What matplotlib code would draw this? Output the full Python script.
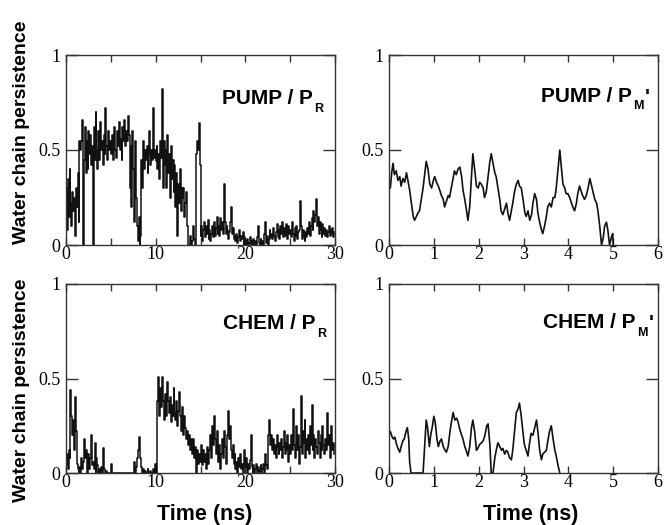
import numpy as np
import matplotlib
matplotlib.use("Agg")
import matplotlib.pyplot as plt

# ---------------- data ----------------
# PUMP / P_R : persistence sampled every 0.1 ns, 0 .. 29.9 ns
pump_pr = [
    0.30,0.08,0.35,0.15,0.40,0.22,0.10,0.28,0.18,0.25,
    0.05,0.30,0.20,0.38,0.12,0.55,0.50,0.55,0.66,0.00,
    0.45,0.62,0.38,0.55,0.40,0.60,0.48,0.58,0.42,0.52,
    0.00,0.62,0.45,0.70,0.50,0.40,0.60,0.45,0.65,0.50,
    0.55,0.42,0.58,0.48,0.72,0.52,0.45,0.60,0.50,0.55,
    0.48,0.58,0.45,0.55,0.62,0.50,0.46,0.60,0.52,0.65,
    0.50,0.56,0.45,0.62,0.55,0.66,0.52,0.60,0.55,0.68,
    0.58,0.30,0.52,0.20,0.60,0.40,0.12,0.55,0.25,0.10,
    0.02,0.15,0.00,0.05,0.45,0.30,0.55,0.40,0.50,0.45,
    0.52,0.38,0.48,0.60,0.42,0.50,0.45,0.72,0.46,0.50,
    0.44,0.52,0.40,0.48,0.35,0.55,0.46,0.82,0.30,0.55,
    0.42,0.50,0.30,0.58,0.38,0.48,0.25,0.52,0.35,0.45,
    0.28,0.42,0.20,0.38,0.05,0.32,0.22,0.40,0.18,0.30,
    0.25,0.30,0.15,0.22,0.28,0.10,0.00,0.00,0.05,0.00,
    0.00,0.02,0.10,0.03,0.00,0.48,0.55,0.50,0.64,0.42,
    0.05,0.10,0.02,0.08,0.12,0.04,0.10,0.06,0.13,0.03,
    0.08,0.02,0.06,0.10,0.04,0.12,0.05,0.09,0.15,0.06,
    0.10,0.05,0.14,0.08,0.12,0.06,0.32,0.12,0.06,0.10,
    0.08,0.03,0.07,0.12,0.20,0.06,0.09,0.03,0.05,0.02,
    0.06,0.01,0.04,0.08,0.02,0.05,0.03,0.07,0.00,0.04,
    0.02,0.00,0.03,0.00,0.01,0.04,0.00,0.02,0.00,0.03,
    0.00,0.02,0.00,0.04,0.10,0.01,0.00,0.03,0.00,0.02,
    0.00,0.06,0.12,0.01,0.05,0.00,0.03,0.08,0.04,0.06,
    0.03,0.09,0.05,0.02,0.07,0.11,0.04,0.08,0.03,0.10,
    0.06,0.12,0.04,0.09,0.05,0.11,0.07,0.03,0.10,0.06,
    0.08,0.04,0.12,0.06,0.02,0.09,0.05,0.10,0.03,0.07,
    0.08,0.23,0.10,0.03,0.08,0.05,0.02,0.07,0.04,0.09,
    0.06,0.12,0.05,0.10,0.14,0.08,0.18,0.12,0.16,0.24,
    0.10,0.15,0.06,0.12,0.08,0.04,0.11,0.06,0.09,0.05,
    0.08,0.04,0.07,0.10,0.05,0.08,0.06,0.09,0.04,0.07,
]

# CHEM / P_R : persistence sampled every 0.1 ns, 0 .. 29.9 ns
chem_pr = [
    0.05,0.10,0.02,0.12,0.08,0.44,0.30,0.20,0.28,0.12,
    0.40,0.22,0.05,0.02,0.00,0.03,0.00,0.08,0.02,0.06,
    0.18,0.08,0.12,0.00,0.05,0.10,0.02,0.08,0.20,0.04,
    0.06,0.02,0.16,0.00,0.08,0.04,0.00,0.02,0.00,0.03,
    0.00,0.13,0.02,0.00,0.00,0.01,0.00,0.00,0.00,0.00,
    0.05,0.00,0.00,0.00,0.00,0.00,0.00,0.00,0.00,0.00,
    0.00,0.00,0.00,0.00,0.00,0.00,0.00,0.00,0.00,0.00,
    0.00,0.00,0.00,0.00,0.00,0.00,0.06,0.00,0.03,0.08,
    0.12,0.19,0.15,0.08,0.03,0.00,0.02,0.00,0.01,0.00,
    0.00,0.02,0.00,0.00,0.01,0.00,0.00,0.02,0.00,0.05,
    0.00,0.20,0.38,0.51,0.30,0.45,0.35,0.51,0.38,0.28,
    0.42,0.35,0.30,0.48,0.38,0.32,0.40,0.27,0.36,0.30,
    0.45,0.32,0.28,0.38,0.25,0.33,0.43,0.30,0.22,0.35,
    0.28,0.20,0.30,0.24,0.18,0.22,0.15,0.20,0.12,0.18,
    0.16,0.10,0.18,0.08,0.14,0.00,0.12,0.05,0.10,0.06,
    0.08,0.15,0.04,0.12,0.06,0.10,0.02,0.14,0.05,0.09,
    0.12,0.20,0.08,0.25,0.15,0.30,0.18,0.10,0.22,0.12,
    0.06,0.15,0.02,0.10,0.18,0.08,0.22,0.14,0.05,0.12,
    0.20,0.33,0.18,0.25,0.12,0.08,0.15,0.05,0.10,0.02,
    0.06,0.00,0.08,0.03,0.10,0.02,0.05,0.00,0.04,0.12,
    0.03,0.08,0.00,0.05,0.02,0.07,0.20,0.03,0.00,0.04,
    0.00,0.02,0.05,0.00,0.03,0.01,0.00,0.04,0.00,0.02,
    0.05,0.00,0.10,0.04,0.02,0.20,0.28,0.26,0.15,0.20,
    0.12,0.18,0.10,0.15,0.08,0.20,0.14,0.10,0.16,0.12,
    0.18,0.08,0.14,0.22,0.10,0.16,0.12,0.20,0.06,0.15,
    0.10,0.20,0.12,0.34,0.15,0.08,0.18,0.25,0.12,0.20,
    0.05,0.14,0.41,0.10,0.22,0.16,0.28,0.08,0.18,0.12,
    0.20,0.10,0.25,0.15,0.36,0.12,0.20,0.08,0.18,0.14,
    0.10,0.22,0.16,0.08,0.20,0.12,0.25,0.15,0.10,0.18,
    0.12,0.32,0.15,0.20,0.08,0.18,0.25,0.12,0.16,0.10,
]
pr_time_step = 0.1

# PUMP / P_M'
pump_pm_t = [0.00,0.03,0.06,0.09,0.12,0.16,0.20,0.24,0.27,0.31,0.35,0.39,0.42,0.46,
             0.50,0.54,0.57,0.61,0.65,0.68,0.72,0.76,0.80,0.83,0.87,0.91,0.95,0.99,
             1.02,1.06,1.10,1.13,1.17,1.21,1.24,1.28,1.32,1.35,1.39,1.43,1.46,1.50,
             1.54,1.58,1.62,1.65,1.69,1.73,1.76,1.80,1.84,1.87,1.91,1.95,1.99,2.02,
             2.06,2.10,2.13,2.17,2.21,2.25,2.28,2.32,2.36,2.39,2.43,2.47,2.50,2.54,
             2.58,2.62,2.65,2.69,2.73,2.76,2.80,2.84,2.88,2.91,2.95,2.99,3.03,3.06,
             3.10,3.14,3.18,3.21,3.25,3.29,3.32,3.36,3.40,3.43,3.47,3.51,3.54,3.58,
             3.62,3.66,3.70,3.73,3.77,3.81,3.84,3.88,3.92,3.95,3.99,4.03,4.07,4.10,
             4.14,4.18,4.21,4.25,4.29,4.32,4.36,4.40,4.44,4.48,4.51,4.55,4.59,4.63,
             4.66,4.70,4.74,4.78,4.81,4.85,4.88,4.92,4.96,4.99,5.00]
pump_pm_v = [0.33,0.30,0.38,0.43,0.37,0.39,0.34,0.36,0.31,0.35,0.33,0.38,0.34,0.29,
             0.22,0.15,0.13,0.15,0.17,0.18,0.24,0.30,0.38,0.44,0.40,0.32,0.30,0.34,
             0.36,0.33,0.31,0.29,0.26,0.24,0.20,0.23,0.26,0.25,0.30,0.35,0.39,0.37,
             0.40,0.41,0.36,0.29,0.24,0.18,0.13,0.20,0.36,0.48,0.40,0.31,0.30,0.33,
             0.32,0.30,0.25,0.28,0.36,0.44,0.48,0.43,0.38,0.36,0.30,0.24,0.18,0.16,
             0.19,0.22,0.17,0.13,0.18,0.22,0.28,0.32,0.34,0.31,0.30,0.24,0.17,0.15,
             0.18,0.13,0.16,0.22,0.27,0.24,0.17,0.12,0.08,0.06,0.10,0.15,0.20,0.22,
             0.20,0.25,0.25,0.30,0.40,0.50,0.42,0.32,0.30,0.27,0.27,0.25,0.22,0.20,
             0.18,0.22,0.27,0.31,0.28,0.26,0.24,0.26,0.30,0.35,0.32,0.28,0.24,0.22,
             0.18,0.10,0.00,0.04,0.10,0.12,0.08,0.00,0.04,0.06,0.00]

# CHEM / P_M'
chem_pm_t = [0.00,0.03,0.07,0.10,0.13,0.17,0.20,0.24,0.27,0.31,0.34,0.38,0.41,0.44,
             0.46,0.49,0.76,0.79,0.83,0.86,0.90,0.93,0.97,1.00,1.03,1.07,1.10,1.14,
             1.17,1.21,1.25,1.28,1.32,1.36,1.40,1.43,1.47,1.51,1.54,1.58,1.62,1.65,
             1.69,1.72,1.76,1.80,1.84,1.87,1.91,1.95,1.98,2.02,2.06,2.10,2.14,2.18,
             2.21,2.25,2.28,2.32,2.36,2.40,2.43,2.47,2.51,2.54,2.58,2.62,2.65,2.69,
             2.73,2.76,2.80,2.84,2.88,2.91,2.95,2.99,3.02,3.06,3.10,3.13,3.17,3.21,
             3.25,3.29,3.32,3.36,3.40,3.43,3.47,3.51,3.55,3.58,3.62,3.66,3.70,3.73,
             3.77,3.81]
chem_pm_v = [0.20,0.22,0.19,0.18,0.19,0.15,0.13,0.11,0.14,0.17,0.18,0.22,0.24,0.18,
             0.06,0.00,0.00,0.12,0.28,0.24,0.14,0.20,0.25,0.30,0.27,0.18,0.14,0.17,
             0.18,0.14,0.12,0.11,0.14,0.22,0.28,0.32,0.28,0.29,0.27,0.23,0.20,0.18,
             0.14,0.12,0.09,0.14,0.24,0.28,0.22,0.12,0.13,0.15,0.16,0.17,0.20,0.25,
             0.26,0.15,0.00,0.00,0.08,0.13,0.16,0.14,0.12,0.13,0.10,0.12,0.11,0.08,
             0.07,0.12,0.22,0.32,0.34,0.37,0.30,0.21,0.15,0.12,0.09,0.15,0.21,0.20,
             0.24,0.28,0.22,0.12,0.07,0.10,0.11,0.12,0.18,0.22,0.25,0.18,0.12,0.09,
             0.04,0.00]

panel_titles = [("PUMP / P", "R", False), ("PUMP / P", "M", True),
                ("CHEM / P", "R", False), ("CHEM / P", "M", True)]
y_ticks = [0, 0.5, 1]
y_ticklabels = ["0", "0.5", "1"]
ylabel_text = "Water chain persistence"
xlabel_text = "Time (ns)"

# ---------------- figure ----------------
W, H = 666, 525
fig = plt.figure(figsize=(W / 100, H / 100), dpi=100)
SANS = "Liberation Sans"
SERIF = "Liberation Serif"
LINE = "#111111"
AX = "#333333"

def fx(px):
    return px / W

def fy(py):
    return 1 - py / H

boxes = [(66, 55, 335, 245), (389, 55, 658, 245),
         (66, 284, 335, 473), (389, 284, 658, 473)]
axes = []
for (l, t, r, b) in boxes:
    ax = fig.add_axes([fx(l), fy(b), (r - l) / W, (b - t) / H])
    axes.append(ax)

def style(ax, xmax, major, labeled):
    ax.set_xlim(0, xmax)
    ax.set_ylim(0, 1)
    ticks = np.arange(0, xmax + 0.001, major)
    ax.set_xticks(ticks)
    ax.set_xticklabels([(f"{v:g}" if (round(v / major) % labeled == 0) else "")
                        for v in ticks])
    ax.set_yticks(y_ticks)
    ax.set_yticklabels(y_ticklabels)
    ax.tick_params(axis="x", direction="in", length=5, width=1.0, color=AX,
                   top=True, pad=1.0, labelsize=13)
    ax.tick_params(axis="y", direction="in", length=8.5, width=1.0, color=AX,
                   right=True, pad=4, labelsize=13)
    for lab in ax.get_xticklabels() + ax.get_yticklabels():
        lab.set_fontfamily(SERIF)
    for sp in ax.spines.values():
        sp.set_linewidth(1.0)
        sp.set_color(AX)

# panel 1
t_pr = np.arange(len(pump_pr)) * pr_time_step
axes[0].step(t_pr, pump_pr, where="post", color=LINE, lw=1.1)
style(axes[0], 30, 5, 2)
# panel 2
axes[1].plot(pump_pm_t, pump_pm_v, color=LINE, lw=1.2)
style(axes[1], 6, 1, 1)
# panel 3
t_pr3 = np.arange(len(chem_pr)) * pr_time_step
axes[2].step(t_pr3, chem_pr, where="post", color=LINE, lw=1.1)
style(axes[2], 30, 5, 2)
# panel 4
axes[3].plot(chem_pm_t, chem_pm_v, color=LINE, lw=1.2)
style(axes[3], 6, 1, 1)

# panel labels
label_pos = [(0.918, 0.742), (0.902, 0.754), (0.926, 0.762), (0.918, 0.767)]
for ax, (main, sub, prime), (x, y) in zip(axes, panel_titles, label_pos):
    ax.text(x, y, main, transform=ax.transAxes, ha="right", va="baseline",
            fontsize=15, fontweight="bold", fontfamily=SANS)
    ax.text(x + 0.006, y - 0.04, sub, transform=ax.transAxes, ha="left",
            va="baseline", fontsize=9, fontweight="bold", fontfamily=SANS)
    if prime:
        ax.text(x + 0.047, y - 0.005, "'", transform=ax.transAxes, ha="left",
                va="baseline", fontsize=15, fontweight="bold", fontfamily=SANS)

# y labels
fig.text(fx(22), fy(132), ylabel_text, rotation=90, ha="center", va="center",
         fontsize=14, fontweight="bold", fontfamily=SANS)
fig.text(fx(22), fy(390), ylabel_text, rotation=90, ha="center", va="center",
         fontsize=14, fontweight="bold", fontfamily=SANS)
# x labels
fig.text(fx(205), fy(520), xlabel_text, ha="center", va="baseline",
         fontsize=15.5, fontweight="bold", fontfamily=SANS)
fig.text(fx(531), fy(520), xlabel_text, ha="center", va="baseline",
         fontsize=15.5, fontweight="bold", fontfamily=SANS)

fig.savefig("out.png", dpi=100)
